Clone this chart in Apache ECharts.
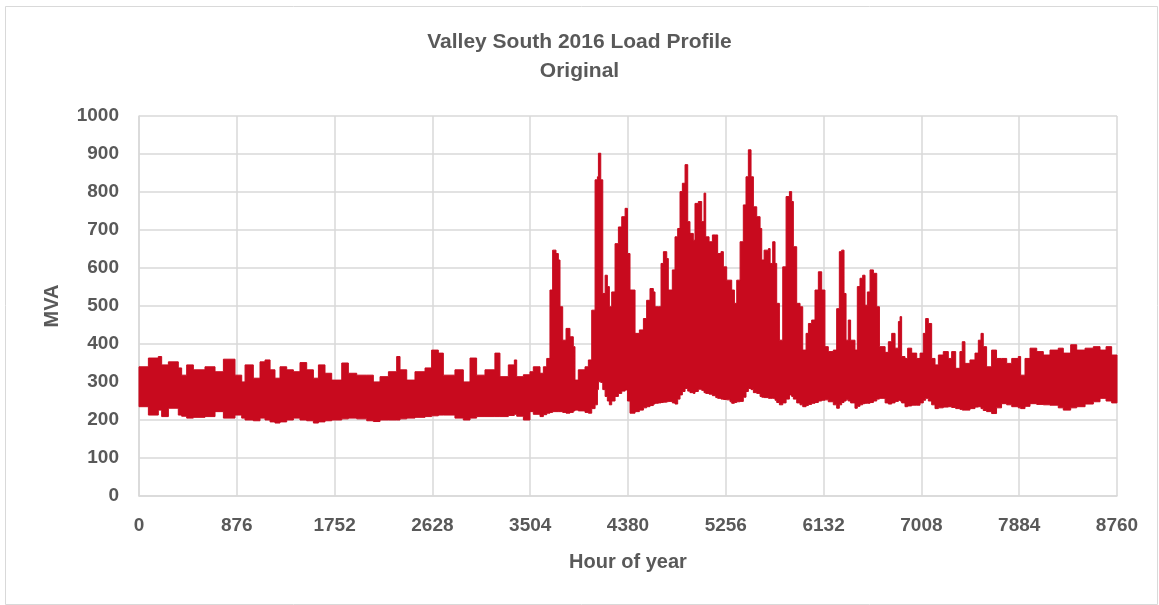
<!DOCTYPE html>
<html>
<head>
<meta charset="utf-8">
<script src="https://cdn.jsdelivr.net/npm/echarts@6/dist/echarts.min.js"></script>
<style>
html,body{margin:0;padding:0;background:#fff;}
#chart{width:1159px;height:605px;}
</style>
</head>
<body>
<div id="chart"></div>
<script>
// Envelope of the hourly load band (hour of year, daily low / high MVA)
const hours = [0,84,173,203,263,352,382,427,487,591,681,756,860,920,950,1024,1084,1129,1174,1218,1263,1323,1383,1442,1502,1562,1607,1666,1726,1816,1875,1950,2040,2099,2159,2234,2308,2338,2398,2472,2562,2621,2681,2726,2830,2905,2965,3024,3099,3188,3233,3308,3362,3383,3443,3502,3532,3592,3622,3652,3681,3705,3735,3756,3771,3795,3825,3860,3890,3905,3935,3995,4025,4055,4085,4106,4115,4136,4154,4175,4195,4213,4234,4264,4294,4324,4354,4375,4398,4443,4482,4518,4547,4577,4607,4622,4652,4676,4697,4727,4741,4777,4801,4825,4846,4867,4891,4915,4935,4965,4980,5010,5040,5061,5076,5106,5136,5166,5183,5213,5234,5264,5294,5309,5333,5354,5384,5413,5437,5458,5482,5503,5533,5563,5578,5599,5638,5653,5676,5697,5712,5736,5766,5796,5826,5846,5861,5891,5921,5945,5975,5996,6025,6055,6085,6115,6144,6174,6219,6249,6273,6294,6315,6333,6353,6374,6413,6434,6458,6482,6503,6524,6548,6578,6608,6632,6683,6712,6742,6772,6802,6817,6831,6861,6885,6921,6966,6996,7025,7046,7070,7100,7130,7160,7204,7249,7279,7315,7353,7374,7398,7443,7488,7518,7542,7562,7592,7637,7681,7726,7772,7817,7876,7897,7936,7981,8041,8100,8160,8234,8279,8345,8399,8474,8548,8608,8662,8712,8760];
const highMVA = [340,363,367,345,353,337,318,345,332,340,327,360,318,300,345,310,353,358,332,310,340,332,327,351,332,310,345,323,305,350,323,318,318,300,314,327,367,332,305,327,337,384,376,318,332,300,363,318,332,376,314,345,358,314,319,327,340,323,340,362,542,647,638,621,498,410,441,419,393,305,332,340,358,489,832,840,902,832,533,581,551,498,537,664,708,735,757,638,542,428,437,467,515,546,537,498,498,612,643,625,542,595,682,704,801,823,872,722,691,673,770,775,722,797,682,669,687,687,638,643,603,568,568,542,507,568,669,766,840,911,840,761,735,704,621,647,651,612,669,612,507,410,603,788,801,775,656,507,498,384,428,454,463,542,590,542,393,380,384,493,643,647,533,410,463,410,384,551,573,581,502,537,595,586,498,393,378,406,428,389,459,472,367,362,389,376,362,376,428,467,454,362,345,371,380,362,380,336,380,406,349,358,376,410,428,393,340,384,362,362,349,362,367,318,362,389,380,371,384,389,376,398,384,389,393,384,393,371,367];
const lowMVA = [235,213,226,209,231,213,210,205,207,209,222,205,213,205,200,198,205,200,195,192,195,200,205,200,198,192,195,198,200,203,205,203,198,196,200,200,200,203,205,207,209,211,213,213,205,200,205,209,209,209,209,212,215,210,200,222,215,209,214,218,220,222,222,222,222,220,218,220,224,226,224,220,218,230,240,280,301,299,280,262,250,240,250,262,270,276,279,250,218,222,226,232,235,238,242,244,245,246,247,248,249,245,242,255,266,275,283,276,272,270,275,281,278,272,270,268,264,259,257,255,254,253,248,244,246,248,249,260,275,283,280,272,270,262,260,259,257,257,257,252,246,240,245,255,266,262,255,245,240,235,238,241,244,246,250,252,253,248,240,231,240,246,250,253,250,245,231,236,240,243,244,244,246,250,255,257,245,242,245,249,252,250,245,235,237,239,239,245,252,257,250,240,230,232,234,235,233,230,228,226,226,230,234,235,230,225,222,217,232,243,240,235,232,230,236,243,241,240,239,232,226,232,235,242,248,257,250,245,235];

const RED = '#C80A1E';
const GRAY = '#595959';
const FONT = '"Liberation Sans", Arial, sans-serif';

const bandData = hours.map((h, i) => [h, lowMVA[i], highMVA[i]]);

const chart = echarts.init(document.getElementById('chart'), null, {renderer: 'canvas'});
chart.setOption({
  animation: false,
  backgroundColor: '#ffffff',
  title: {
    text: 'Valley South 2016 Load Profile\nOriginal',
    left: 'center',
    top: 23,
    textStyle: {color: GRAY, fontFamily: FONT, fontSize: 21, fontWeight: 'bold', lineHeight: 29}
  },
  graphic: [{
    type: 'rect', left: 3, top: 4, silent: true,
    shape: {width: 1152, height: 598},
    style: {fill: 'none', stroke: '#d9d9d9', lineWidth: 1}
  }],
  grid: {left: 139, top: 116, width: 978, height: 380, containLabel: false},
  xAxis: {
    type: 'value', min: 0, max: 8760, interval: 876,
    name: 'Hour of year', nameLocation: 'middle', nameGap: 56,
    nameTextStyle: {color: GRAY, fontFamily: FONT, fontSize: 20, fontWeight: 'bold'},
    axisLine: {show: true, lineStyle: {color: '#d9d9d9', width: 1.5}},
    axisTick: {show: false},
    axisLabel: {color: GRAY, fontFamily: FONT, fontSize: 19, fontWeight: 'bold', margin: 20,
      formatter: function (v) { return String(v); }},
    splitLine: {show: true, lineStyle: {color: '#d9d9d9', width: 1.5}}
  },
  yAxis: {
    type: 'value', min: 0, max: 1000, interval: 100,
    name: 'MVA', nameLocation: 'middle', nameGap: 77, nameRotate: 90,
    nameTextStyle: {color: GRAY, fontFamily: FONT, fontSize: 20, fontWeight: 'bold'},
    axisLine: {show: true, lineStyle: {color: '#d9d9d9', width: 1.5}},
    axisTick: {show: false},
    axisLabel: {color: GRAY, fontFamily: FONT, fontSize: 19, fontWeight: 'bold', margin: 20,
      formatter: function (v) { return String(v); }},
    splitLine: {show: true, lineStyle: {color: '#d9d9d9', width: 1.5}}
  },
  series: [{
    type: 'custom',
    silent: true,
    encode: {x: 0, y: [1, 2]},
    data: bandData,
    renderItem: function (params, api) {
      // one closed stepped outline for the whole band, built from all data items
      if (params.dataIndexInside !== 0) return null;
      const n = params.dataInsideLength;
      const top = [], bottom = [];
      for (let j = 0; j < n - 1; j++) {
        const h0 = api.value(0, j), h1 = api.value(0, j + 1);
        const lo = api.value(1, j), hi = api.value(2, j);
        top.push(api.coord([h0, hi]), api.coord([h1, hi]));
        bottom.push(api.coord([h0, lo]), api.coord([h1, lo]));
      }
      const points = top.concat(bottom.reverse());
      return {
        type: 'polygon',
        shape: {points: points},
        style: {fill: RED, stroke: RED, lineWidth: 1}
      };
    }
  }]
});
</script>
</body>
</html>
